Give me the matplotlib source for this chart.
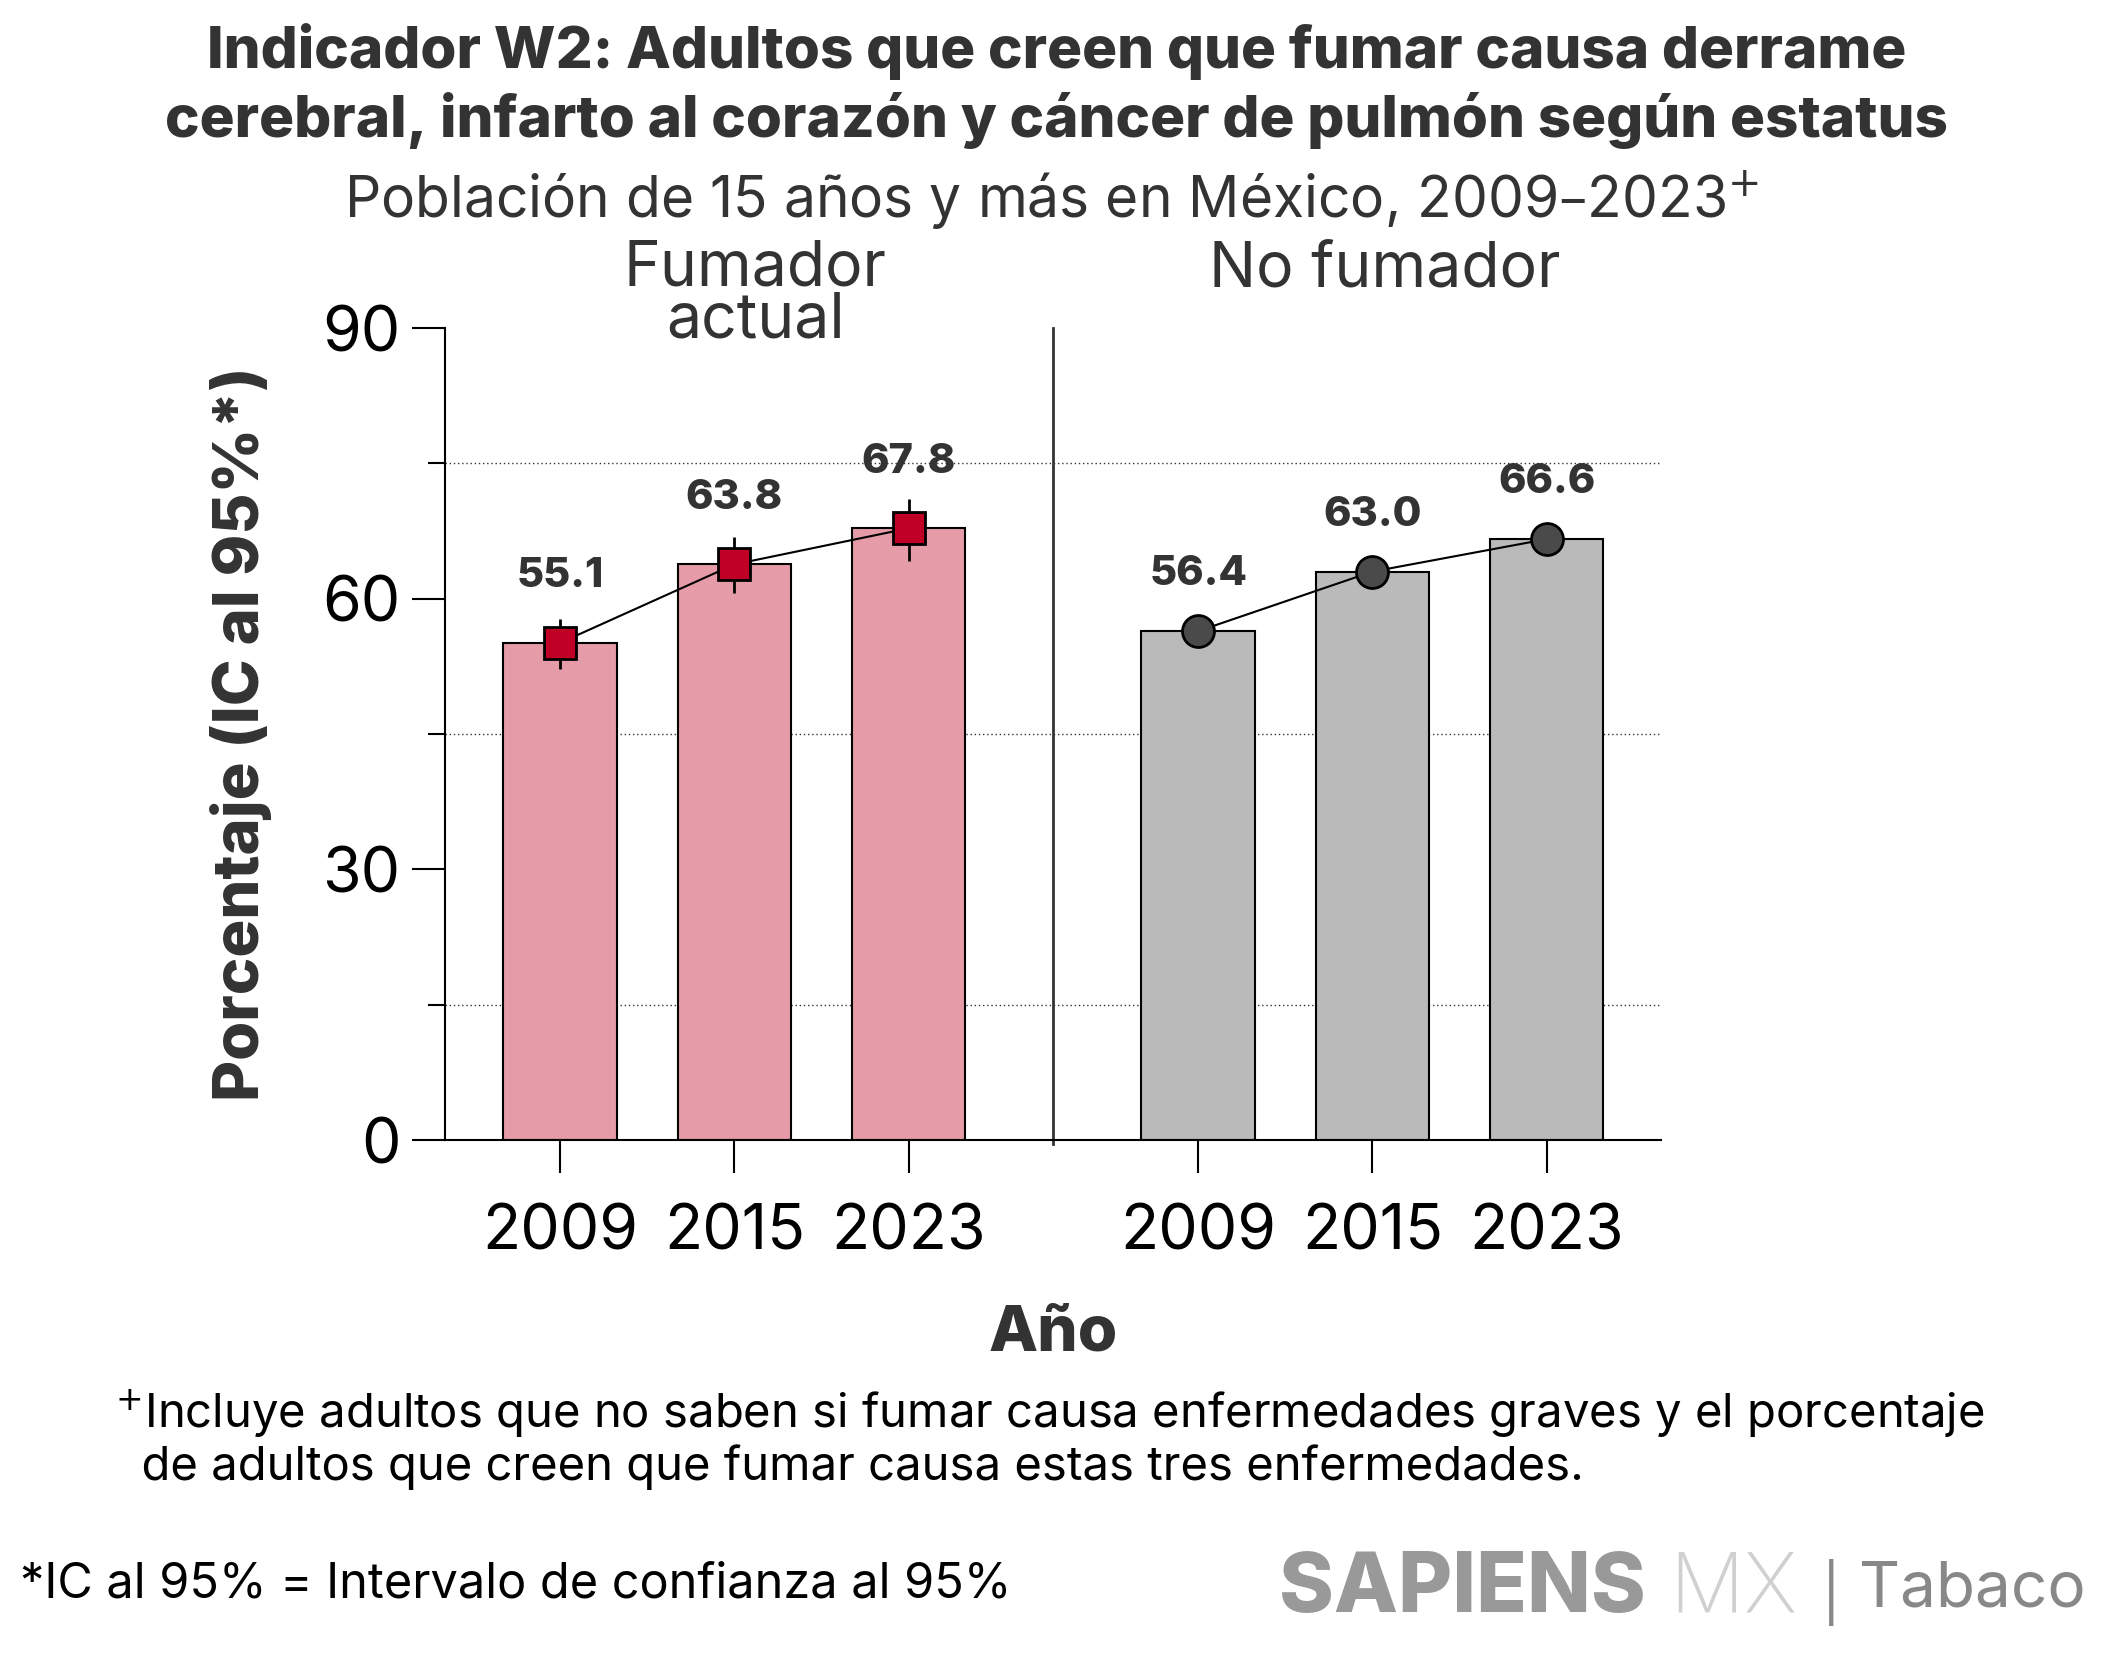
import numpy as np
import matplotlib
matplotlib.use("Agg")
import matplotlib.pyplot as plt

# datos
years = ["2009", "2015", "2023"]
fumador = [55.1, 63.8, 67.8]
fumador_lo = [52.2, 60.6, 64.2]
fumador_hi = [57.8, 66.8, 71.1]
no_fumador = [56.4, 63.0, 66.6]
yticks = [0, 30, 60, 90]
yminor = [15, 45, 75]

plt.rcParams['font.family'] = ['Inter', 'DejaVu Sans']

W, H = 2105, 1663
fig = plt.figure(figsize=(W / 100, H / 100), dpi=100)
ax = fig.add_axes([445 / W, 1 - 1140 / H, (1661 - 445) / W, (1140 - 328) / H])

x_l = np.arange(3)
x_r = np.arange(3) + 3.66
sep = 2.83

ax.bar(x_l, fumador, width=0.65, color="#E59CA8", edgecolor="black", linewidth=1.5, zorder=2)
ax.bar(x_r, no_fumador, width=0.65, color="#BABABA", edgecolor="black", linewidth=1.5, zorder=2)

err = [np.array(fumador) - np.array(fumador_lo), np.array(fumador_hi) - np.array(fumador)]
ax.errorbar(x_l, fumador, yerr=err, fmt="none", ecolor="black", elinewidth=2, capsize=0, zorder=3)
ax.plot(x_l, fumador, color="black", lw=1.5, marker="s", ms=23, mfc="#C00025", mec="black", mew=2, zorder=4)
ax.plot(x_r, no_fumador, color="black", lw=1.5, marker="o", ms=23, mfc="#4A4A4A", mec="black", mew=2, zorder=4)

for x, v in zip(x_l, fumador):
    ax.annotate(f"{v:.1f}", (x, v), xytext=(0, 48), textcoords="offset points",
                ha="center", va="center", fontsize=30, fontweight="heavy", color="#333333")
for x, v in zip(x_r, no_fumador):
    ax.annotate(f"{v:.1f}", (x, v), xytext=(0, 41), textcoords="offset points",
                ha="center", va="center", fontsize=30, fontweight="heavy", color="#333333")

ax.set_xlim(-0.66, 6.315)
ax.set_ylim(0, 90)
ax.set_yticks(yticks)
ax.set_yticks(yminor, minor=True)
for g in yminor:
    ax.axhline(g, color="#333333", lw=1, ls=(0, (1, 2)), zorder=1)
ax.axvline(sep, ymin=-0.005, ymax=1, color="#333333", lw=2, clip_on=False)

ax.set_xticks(np.concatenate([x_l, x_r]))
ax.set_xticklabels(years + years)
ax.tick_params(axis="y", which="major", length=24, width=1.5, labelsize=45, pad=8)
ax.tick_params(axis="y", which="minor", length=12, width=1.5)
ax.tick_params(axis="x", length=24, width=1.5, labelsize=45, pad=22)
for s in ["top", "right"]:
    ax.spines[s].set_visible(False)
for s in ["left", "bottom"]:
    ax.spines[s].set_linewidth(1.5)

ax.set_ylabel("Porcentaje (IC al 95%*)", fontsize=45.5, fontweight="heavy", color="#333333", labelpad=36)
ax.set_xlabel("Año", fontsize=46, fontweight="heavy", color="#333333", labelpad=30)

ax.text(1.12, 93.65, "Fumador\nactual", ha="center", va="center", fontsize=45, color="#333333",
        linespacing=0.85)
ax.text(4.73, 96.4, "No fumador", ha="center", va="center", fontsize=45, color="#333333")

fig.text(0.502, 1 - 86 / H, "Indicador W2: Adultos que creen que fumar causa derrame\n"
         "cerebral, infarto al corazón y cáncer de pulmón según estatus",
         ha="center", va="center", fontsize=42, fontweight="heavy", color="#333333", linespacing=1.27)
fig.text(0.4995, 1 - 201 / H, "Población de 15 años y más en México, 2009–2023$^{+}$",
         ha="center", va="center", fontsize=41, color="#333333")

fig.text(115 / W, 1 - 1439 / H, "$^{+}$Incluye adultos que no saben si fumar causa enfermedades graves y el porcentaje\n"
         "  de adultos que creen que fumar causa estas tres enfermedades.",
         ha="left", va="center", fontsize=34, color="black", linespacing=1.08)
fig.text(20 / W, 1 - 1585 / H, "*IC al 95% = Intervalo de confianza al 95%",
         ha="left", va="center", fontsize=35, color="black")

fig.text(1279 / W, 1 - 1590 / H, "SAPIENS", ha="left", va="center", fontsize=60, fontweight="heavy", color="#999999")
fig.text(1669 / W, 1 - 1590 / H, "MX", ha="left", va="center", fontsize=60, fontweight="light", color="#D0D0D0")
fig.text(1822 / W, 1 - 1592 / H, "|", ha="left", va="center", fontsize=40, color="#888888")
fig.text(1859 / W, 1 - 1590 / H, "Tabaco", ha="left", va="center", fontsize=46, color="#888888")

fig.savefig("out.png", dpi=100, facecolor="white")
